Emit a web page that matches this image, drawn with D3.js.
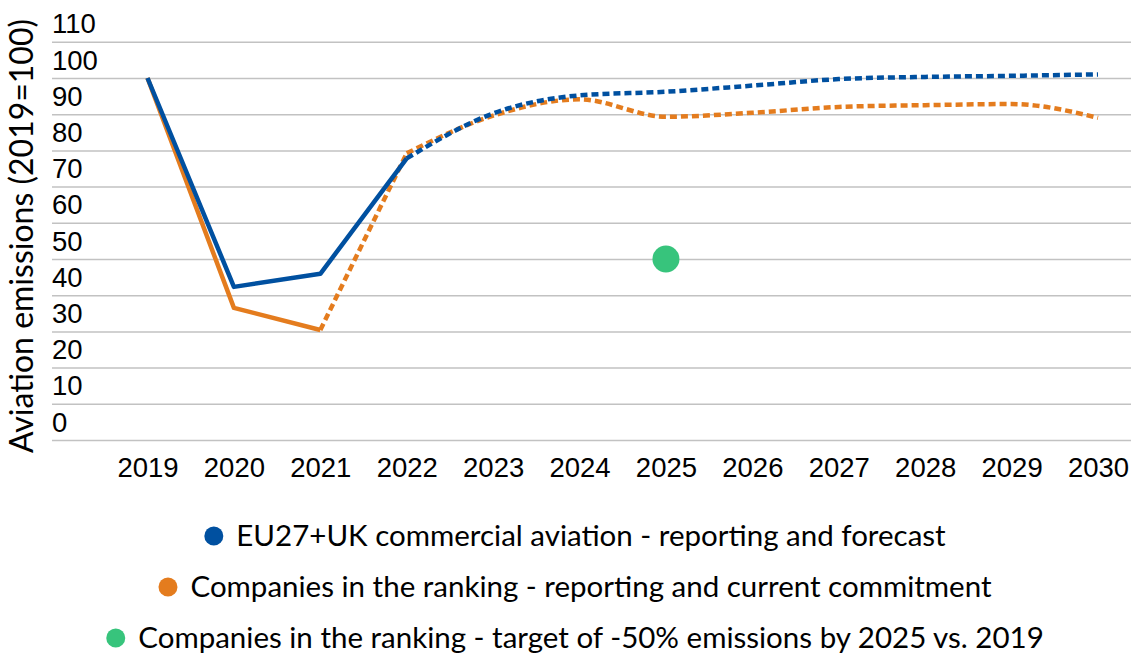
<!DOCTYPE html>
<html>
<head>
<meta charset="utf-8">
<script src="https://cdn.jsdelivr.net/npm/d3@7"></script>
<style>
  body { margin: 0; background: #fff; }
  svg { display: block; font-family: Lato, "Noto Sans", sans-serif; }
</style>
</head>
<body>
<div id="chart"></div>
<script>
// data (index, 2019 = 100)
var years = [2019, 2020, 2021, 2022, 2023, 2024, 2025, 2026, 2027, 2028, 2029, 2030]
var euAviation = [100, 42.3, 45.9, 77.8, 90.2, 95.2, 96.2, 97.9, 99.7, 100.3, 100.6, 101]
var companies = [100, 36.5, 30.4, 79.2, 89.6, 94.1, 89.3, 90.4, 92, 92.5, 92.8, 89]
var euLastReported = 2022
var companiesLastReported = 2021
var targetYear = 2025
var targetValue = 50
var yTicks = [0, 10, 20, 30, 40, 50, 60, 70, 80, 90, 100, 110]
var legendLabels = [
  "EU27+UK commercial aviation - reporting and forecast",
  "Companies in the ranking - reporting and current commitment",
  "Companies in the ranking - target of -50% emissions by 2025 vs. 2019"
]
var colors = ['#0050a0', '#e47c1e', '#37c47c']

var width = 1131
var height = 655
var fontSize = 27.5

var svg = d3.select("#chart")
  .append("svg")
  .attr("width", width)
  .attr("height", height)

var xScale = d3.scalePoint()
  .domain(years)
  .range([147.5, 1098])

var yScale = d3.scaleLinear()
  .domain([0, 110])
  .range([440, 41.8])

// gridlines + y labels (labels sit above their gridline, like the original)
var gridLeft = 52
var yAxis = d3.axisRight(yScale)
  .tickValues(yTicks)
  .tickSize(width - gridLeft)

svg.append("g")
  .attr("transform", `translate(${gridLeft},0)`)
  .attr("class", "y-axis")
  .call(yAxis)
  .call(g => g.select(".domain").remove())
  .call(g => g.selectAll(".tick line").attr("stroke", "#c2c2c2").attr("stroke-width", 1.5))
  .call(g => g.selectAll(".tick text")
    .attr("x", 0)
    .attr("y", -9)
    .attr("dy", 0)
    .attr("text-anchor", "start")
    .style("font-size", fontSize + "px")
    .style("fill", "black"))

// x labels
var xAxis = d3.axisBottom(xScale)
  .tickSize(0)
  .tickFormat(d => d)

svg.append("g")
  .attr("transform", "translate(0,440)")
  .attr("class", "x-axis")
  .call(xAxis)
  .call(g => g.select(".domain").remove())
  .call(g => g.selectAll(".tick text")
    .attr("y", 37)
    .attr("dy", 0)
    .style("font-size", fontSize + "px")
    .style("fill", "black"))

// axis title
svg.append("text")
  .attr("transform", "translate(33,236) rotate(-90)")
  .attr("text-anchor", "middle")
  .style("font-size", "32px")
  .style("fill", "black")
  .text("Aviation emissions (2019=100)")

function pts(values, from, to) {
  return years.map((y, i) => ({ year: y, value: values[i] }))
    .filter(d => d.year >= from && d.year <= to)
}

var straight = d3.line()
  .x(d => xScale(d.year))
  .y(d => yScale(d.value))

var smooth = d3.line()
  .x(d => xScale(d.year))
  .y(d => yScale(d.value))
  .curve(d3.curveMonotoneX)

function drawLine(d, color, dashed) {
  svg.append("path")
    .attr("d", d)
    .style("fill", "none")
    .style("stroke", color)
    .style("stroke-width", 4.5)
    .style("stroke-linejoin", "round")
    .style("stroke-dasharray", dashed ? "7,4" : null)
}

// orange: companies
drawLine(straight(pts(companies, 2019, companiesLastReported)), colors[1], false)
drawLine(straight(pts(companies, companiesLastReported, 2022)), colors[1], true)
drawLine(smooth(pts(companies, 2022, 2030)), colors[1], true)

// blue: EU27+UK
drawLine(straight(pts(euAviation, 2019, euLastReported)), colors[0], false)
drawLine(smooth(pts(euAviation, euLastReported, 2030)), colors[0], true)

// target point
svg.append("circle")
  .attr("cx", xScale(targetYear))
  .attr("cy", yScale(targetValue))
  .attr("r", 13.5)
  .style("fill", colors[2])

// legend, each row centred
var legendCenter = 575
legendLabels.forEach((label, i) => {
  var row = svg.append("g").attr("class", "legend-row")
  var txt = row.append("text")
    .attr("y", 546 + i * 51)
    .style("font-size", "29.5px")
    .style("fill", "black")
    .text(label)
  var w = txt.node().getComputedTextLength()
  var start = legendCenter - (w + 32) / 2
  row.append("circle")
    .attr("cx", start + 9.5)
    .attr("cy", 536 + i * 51)
    .attr("r", 9.5)
    .style("fill", colors[i])
  txt.attr("x", start + 32)
})
</script>
</body>
</html>
